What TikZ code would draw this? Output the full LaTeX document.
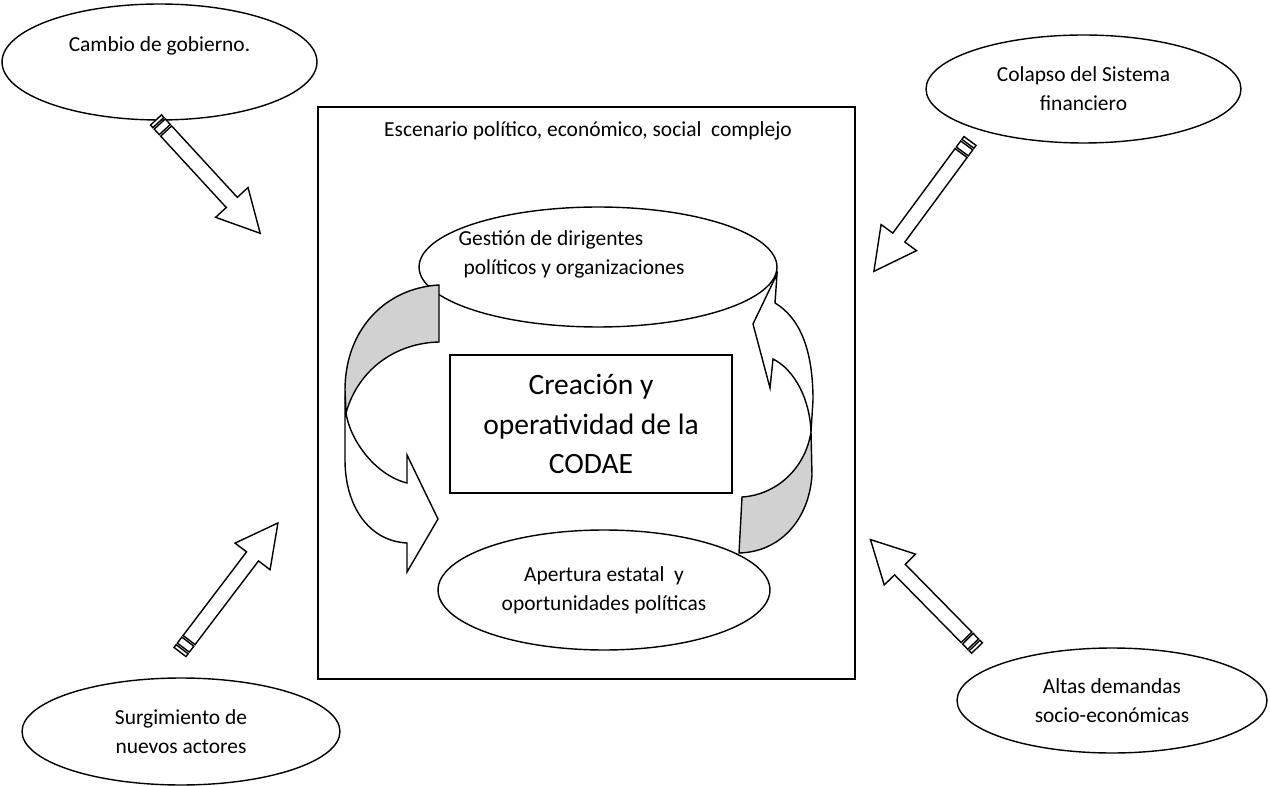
\documentclass[tikz,border=0pt]{standalone}
\usepackage{fontspec}
\setmainfont{Carlito}
\usetikzlibrary{shapes.geometric}

\newcommand{\txtsmall}{\fontsize{12.2}{16.6}\selectfont}
\newcommand{\txtbig}{\fontsize{16.8}{22.7}\selectfont}

\tikzset{
  bubble/.style={draw, ellipse, fill=white, inner sep=0pt, font=\txtsmall},
  caja/.style={draw, rectangle, inner sep=0pt},
  cinta/.style={draw, fill=white, line join=miter},
  sombra/.style={draw, fill=black!18, line join=miter},
  pics/striparrow/.style={code={
    \draw[cinta] (0,-7.5) rectangle (3.5,7.5);
    \draw[cinta] (5.5,-7.5) rectangle (13,7.5);
    \draw[cinta] (15,-7.5) -- (#1-42,-7.5) -- (#1-42,-22) -- (#1,0)
      -- (#1-42,22) -- (#1-42,7.5) -- (15,7.5) -- cycle;
  }}
}

\begin{document}
\begin{tikzpicture}[x=0.02cm, y=-0.02cm, line width=0.8pt]
\useasboundingbox (0,0) rectangle (1270,786);

% escenario
\node[caja, minimum width=10.74cm, minimum height=11.44cm] (esc) at (586.5,393) {};
\node[font=\txtsmall] (esctxt) at (588,131) {Escenario político, económico, social\ \ complejo};

% factores externos
\node[bubble, minimum width=6.3cm, minimum height=2.32cm, align=center] (gob) at (159.5,62) {Cambio de gobierno.\\[4pt] ~};
\node[bubble, minimum width=6.3cm, minimum height=2.16cm, align=center] (fin) at (1083.5,89) {Colapso del Sistema\\ financiero};
\node[bubble, minimum width=6.36cm, minimum height=2.14cm, align=center] (act) at (181,731.5) {Surgimiento de\\ nuevos actores};
\node[bubble, minimum width=6.2cm, minimum height=2.1cm, align=center] (dem) at (1112,700.5) {Altas demandas\\ socio-económicas};

\pic[rotate=-47.4] at (156,120) {striparrow=154};
\pic[rotate=-126.4] at (970,141) {striparrow=162};
\pic[rotate=52.8] at (180,652) {striparrow=162};
\pic[rotate=134.5] at (977,648) {striparrow=152};

% ciclo interno
\node[bubble, minimum width=7.16cm, minimum height=2.4cm] (ges) at (598,267) {};
\node[font=\txtsmall, align=left, anchor=west, inner sep=0pt] (gestxt) at (458,254.5) {Gestión de dirigentes\\ \ políticos y organizaciones};
\node[bubble, minimum width=6.64cm, minimum height=2.4cm, align=center] (ape) at (604,590) {Apertura estatal\ \ y\\ oportunidades políticas};

% flecha izquierda
\draw[cinta] (345,395) -- (345,460) .. controls (345,505) and (368,541) .. (407,543)
  -- (407,572) -- (438,519) -- (407,455) -- (407,483)
  .. controls (375,475) and (350,440) .. (346,413) -- cycle;
\draw[sombra] (439,285) .. controls (385,288) and (345,330) .. (345,390) -- (346,413)
  .. controls (358,370) and (395,343) .. (439,342) -- cycle;

% flecha derecha
\draw[sombra] (742,497) .. controls (775,495) and (805,470) .. (811,432)
  -- (812,475) .. controls (809,520) and (780,552) .. (739,553) -- cycle;
\draw[cinta] (811,432) -- (813,400) .. controls (813,350) and (800,318) .. (775,303)
  -- (777,274) -- (753,324) -- (770,388) -- (773,359)
  .. controls (795,370) and (810,400) .. (811,432) -- cycle;

% centro
\node[caja, fill=white, minimum width=5.64cm, minimum height=2.76cm, align=center, font=\txtbig] (codae) at (591,424) {Creación y\\ operatividad de la\\ CODAE};
\end{tikzpicture}
\end{document}
